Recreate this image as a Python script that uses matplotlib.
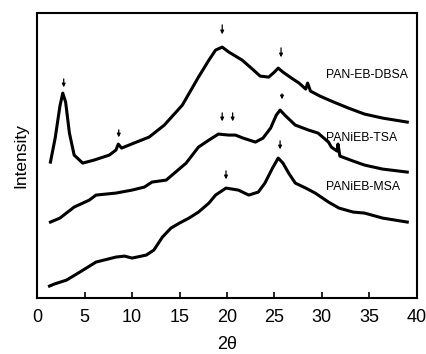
import matplotlib
matplotlib.use("Agg")
import matplotlib.pyplot as plt

plt.rcParams["font.family"] = ["Liberation Sans", "DejaVu Sans"]

# PANiEB-DBSA (top curve)
tt_dbsa = [1.4, 1.9, 2.4, 2.7, 3.0, 3.4, 3.9, 4.8, 6.0, 7.6, 8.3, 8.55, 8.9, 10.2, 11.8,
           13.4, 15.3, 17.0, 18.1, 18.8, 19.5, 20.2, 21.6, 22.8, 23.5, 24.4, 25.0, 25.4,
           25.9, 26.8, 27.6, 28.3, 28.5, 28.8, 29.8, 31.0, 32.8, 34.5, 36.4, 39.0]
int_dbsa = [136, 160, 192, 205, 196, 165, 143, 135, 138, 143, 148, 154, 150, 155, 161,
            173, 193, 221, 238, 248, 251, 246, 238, 228, 222, 221, 226, 230,
            226, 220, 215, 209, 215, 207, 202, 197, 190, 184, 180, 176]

# PANiEB-TSA (middle curve)
tt_tsa = [1.4, 2.4, 3.9, 5.5, 6.2, 8.3, 10.0, 11.3, 12.1, 13.6, 15.7, 17.0, 18.1, 19.1,
          20.2, 20.9, 21.7, 23.0, 23.8, 24.6, 25.2, 25.6, 26.2, 27.2, 28.6, 29.6, 30.7,
          31.0, 31.6, 31.7, 31.9, 33.3, 34.5, 36.4, 39.0]
int_tsa = [76, 80, 91, 98, 103, 105, 108, 111, 116, 118, 135, 151, 158, 164,
           163, 163, 160, 156, 160, 170, 183, 188, 182, 173, 168, 165, 156,
           151, 147, 154, 142, 137, 133, 129, 126]

# PANiEB-MSA (bottom curve)
tt_msa = [1.3, 1.8, 3.1, 4.5, 6.2, 8.3, 9.2, 10.0, 11.5, 12.3, 13.2, 14.1, 15.0, 16.0,
          17.0, 18.1, 18.8, 19.9, 21.2, 22.3, 23.3, 24.0, 24.8, 25.4, 25.9, 26.5, 27.2,
          28.3, 29.3, 30.7, 31.8, 33.3, 34.5, 36.4, 39.0]
int_msa = [12, 14, 18, 26, 36, 41, 42, 40, 43, 48, 61, 70, 75, 80,
           86, 95, 103, 110, 108, 103, 106, 115, 130, 140, 135, 125, 115,
           110, 105, 96, 90, 86, 85, 80, 76]

# peak markers: position, arrow top, arrow tip
arrow_x = [2.8, 8.6, 19.5, 25.7, 19.5, 20.6, 25.8, 19.9, 25.6]
arrow_top = [222, 171, 276, 253, 188, 188, 207, 130, 160]
arrow_tip = [208, 158, 261, 238, 174, 174, 196, 116, 146]

labels = ["PAN-EB-DBSA", "PANiEB-TSA", "PANiEB-MSA"]
label_y = [223, 160, 111]

fig = plt.figure(figsize=(4.27, 3.54), dpi=100)
ax = fig.add_axes([0.087, 0.158, 0.889, 0.805])

for tt, inten in [(tt_dbsa, int_dbsa), (tt_tsa, int_tsa), (tt_msa, int_msa)]:
    ax.plot(tt, inten, color="black", lw=2.2)

for x, y0, y1 in zip(arrow_x, arrow_top, arrow_tip):
    ax.annotate("", xy=(x, y1), xytext=(x, y0),
                arrowprops=dict(arrowstyle="-|>", color="black", lw=0.9, mutation_scale=5))

for lab, y in zip(labels, label_y):
    ax.text(30.4, y, lab, fontsize=8.8, va="center", ha="left")

ax.set_xlim(0, 40)
ax.set_ylim(0, 285)
ax.set_xticks([0, 5, 10, 15, 20, 25, 30, 35, 40])
ax.set_yticks([])
ax.tick_params(axis="x", direction="in", length=4, width=1.2, labelsize=13, pad=8)
for s in ax.spines.values():
    s.set_linewidth(1.5)
ax.set_xlabel("2θ", fontsize=13, labelpad=7)
ax.set_ylabel("Intensity", fontsize=12.5, labelpad=6)

fig.savefig("out.png", dpi=100)
